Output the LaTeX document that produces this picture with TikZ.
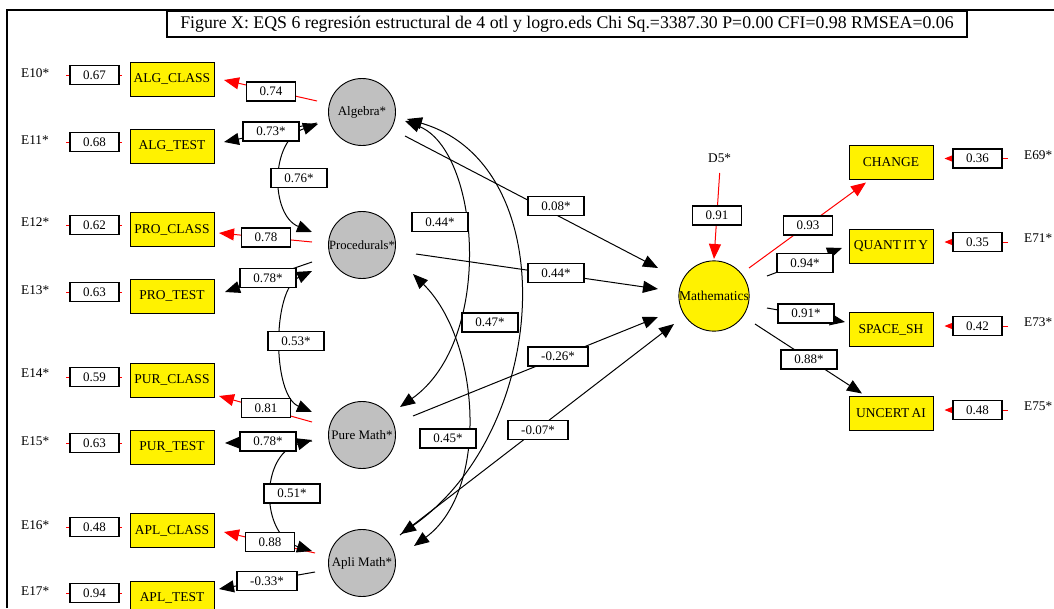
\documentclass[tikz,border=0pt]{standalone}
\usepackage{fontspec}
\setmainfont{Liberation Serif}
\usetikzlibrary{arrows.meta,calc}
\pgfdeclarelayer{bg}
\pgfsetlayers{bg,main}
\definecolor{latgray}{RGB}{192,192,192}
\newcommand{\fsz}[1]{\fontsize{#1}{#1}\selectfont}
\begin{document}
\begin{tikzpicture}[x=1pt,y=-1pt,
  ind/.style={draw, fill=yellow, line width=0.9pt, minimum width=84pt, minimum height=34pt, inner sep=0pt, font=\fsz{13.5}},
  lat/.style={circle, draw, fill=latgray, line width=0.9pt, minimum size=67pt, inner sep=0pt, font=\fsz{13}},
  val/.style={draw, fill=white, line width=1.1pt, minimum height=19pt, inner sep=0pt, font=\fsz{13}},
  va/.style={val, minimum width=49pt},
  vb/.style={val, minimum width=56pt},
  vc/.style={val, minimum width=60pt},
  elab/.style={font=\fsz{13.3}, inner sep=0pt, anchor=west},
  conn/.style={line width=1pt, -{Triangle[length=15pt,width=12pt]}},
  redconn/.style={conn, red},
  cov/.style={line width=1pt, {Triangle[length=15pt,width=12pt]}-{Triangle[length=15pt,width=12pt]}},
  errl/.style={red, line width=1pt},
  errr/.style={red, line width=1pt, -{Triangle[length=9pt,width=7pt]}},
]
\useasboundingbox (0,0) rectangle (1054,608);
\begin{pgfonlayer}{bg}
\fill[white] (0,0) rectangle (1054,608);
\end{pgfonlayer}
% frame
\draw[line width=1.5pt] (7,608) -- (7,10) -- (1054,10);
\node[draw, fill=white, line width=1.1pt, minimum width=800pt, minimum height=26pt, inner sep=0pt, font=\fsz{17.8}] (title) at (567,24)
  {Figure X: EQS 6 regresión estructural de 4 otl y logro.eds Chi Sq.=3387.30 P=0.00 CFI=0.98 RMSEA=0.06};

% latent factors
\node[lat] (alg) at (362,112) {Algebra*};
\node[lat, font=\fsz{12.6}] (pro) at (362,245) {Procedurals*};
\node[lat] (pur) at (362,435) {Pure Math*};
\node[lat] (apl) at (362,563) {Apli Math*};
\node[lat, fill=yellow, font=\fsz{13.5}] (math) at (714,296) {Mathematics};
\node[elab] (d5) at (708,158) {D5*};

% left indicators
\node[ind] (algclass) at (172,79) {ALG\_CLASS};
\node[ind] (algtest) at (172,146) {ALG\_TEST};
\node[ind] (proclass) at (172,229.5) {PRO\_CLASS};
\node[ind] (protest) at (172,296) {PRO\_TEST};
\node[ind] (purclass) at (172,380) {PUR\_CLASS};
\node[ind] (purtest) at (172,447) {PUR\_TEST};
\node[ind] (aplclass) at (172,530.5) {APL\_CLASS};
\node[ind] (apltest) at (172,598) {APL\_TEST};
% right indicators
\node[ind] (change) at (891,162.5) {CHANGE};
\node[ind] (quantity) at (891,246) {QUANT\,IT\,Y};
\node[ind] (space) at (891,329.5) {SPACE\_SH};
\node[ind] (uncert) at (891,413.5) {UNCERT\,AI};

% error labels
\node[elab] (e10) at (21,73) {E10*};
\node[elab] (e11) at (21,140) {E11*};
\node[elab] (e12) at (21,222) {E12*};
\node[elab] (e13) at (21,290) {E13*};
\node[elab] (e14) at (21,373) {E14*};
\node[elab] (e15) at (21,441) {E15*};
\node[elab] (e16) at (21,525) {E16*};
\node[elab] (e17) at (21,591) {E17*};
\node[elab] (e69) at (1024,155) {E69*};
\node[elab] (e71) at (1024,238) {E71*};
\node[elab] (e73) at (1024,322) {E73*};
\node[elab] (e75) at (1024,406) {E75*};

% error value boxes
\node[va] (e10v) at (94.5,75) {0.67};
\node[va] (e11v) at (94.5,142) {0.68};
\node[va] (e12v) at (94.5,225) {0.62};
\node[va] (e13v) at (94.5,292) {0.63};
\node[va] (e14v) at (94.5,377) {0.59};
\node[va] (e15v) at (94.5,443) {0.63};
\node[va] (e16v) at (94.5,527) {0.48};
\node[va] (e17v) at (94.5,593) {0.94};
\node[va] (e69v) at (977.5,158.5) {0.36};
\node[va] (e71v) at (977.5,242) {0.35};
\node[va] (e73v) at (977.5,326) {0.42};
\node[va] (e75v) at (977.5,410) {0.48};

\begin{pgfonlayer}{bg}
% error arrows left
\foreach \e/\i in {e10/algclass,e11/algtest,e12/proclass,e13/protest,e14/purclass,e15/purtest,e16/aplclass,e17/apltest}{
  \draw[errl, shorten <=17pt, shorten >=8pt] (\e.east |- \e v) -- (\i.west |- \e v);
}
% error arrows right
\foreach \e/\i in {e69/change,e71/quantity,e73/space,e75/uncert}{
  \draw[errr, shorten <=16pt, shorten >=11pt] (\e.west |- \e v) -- (\i.east |- \e v);
}
% loadings left
\draw[redconn] ($(alg)+(-45,-11)$) -- ($(algclass)+(52,1)$);
\draw[conn] ($(alg)+(-45,11)$) -- ($(algtest)+(52,-4)$);
\draw[redconn] ($(pro)+(-50,-3)$) -- ($(proclass)+(47,3.5)$);
\draw[conn] ($(pro)+(-50,17)$) -- ($(protest)+(53,-4)$);
\draw[redconn] ($(pur)+(-50,-13)$) -- ($(purclass)+(47,16)$);
\draw[conn] ($(pur)+(-50,6)$) -- ($(purtest)+(53,-4)$);
\draw[redconn] ($(apl)+(-47,-10)$) -- ($(aplclass)+(52,1.5)$);
\draw[conn] ($(apl)+(-47,9)$) -- ($(apltest)+(47,-9)$);
% covariances left
\draw[cov] ($(alg)+(-44,12)$) .. controls +(-48,16) and +(-42,-17) .. ($(pro)+(-50,-13)$);
\draw[cov] ($(pro)+(-50,26)$) .. controls +(-40,19) and +(-40,-17) .. ($(pur)+(-50,-23)$);
\draw[cov] ($(pur)+(-50,5)$) .. controls +(-52,15) and +(-52,-16) .. ($(apl)+(-50,-12)$);
% covariances right
\draw[cov] ($(alg)+(43,9)$) .. controls +(75,29) and +(95,-67) .. ($(pur)+(38,-28)$);
\draw[cov] ($(alg)+(45,7)$) .. controls +(158,46) and +(149,-104) .. ($(apl)+(39,-29)$);
\draw[cov] ($(pro)+(51,29)$) .. controls +(67,66) and +(76,-56) .. ($(apl)+(52,-17)$);
% structural paths
\draw[conn] ($(alg)+(43,24)$) -- ($(math)+(-56,-28)$);
\draw[conn] ($(pro)+(54,9)$) -- ($(math)+(-56,-7)$);
\draw[conn] ($(pur)+(51,-19)$) -- ($(math)+(-56,21)$);
\draw[conn] ($(apl)+(38,-28)$) -- ($(math)+(-40,28)$);
\draw[redconn] ($(d5)+(0,15)$) -- ($(math)+(0,-37)$);
% loadings right
\draw[redconn] ($(math)+(35,-28)$) -- ($(change)+(-25,20)$);
\draw[conn] ($(math)+(53,-20)$) -- ($(quantity)+(-49,2)$);
\draw[conn] ($(math)+(53,12)$) -- ($(space)+(-46,-7.5)$);
\draw[conn] ($(math)+(41,28)$) -- ($(uncert)+(-29,-20)$);
\end{pgfonlayer}

% coefficient boxes
\node[va] (l1) at (271,91.5) {0.74};
\node[vb] (l2) at (271,131.5) {0.73*};
\node[vb] (c1) at (299,178) {0.76*};
\node[va] (l3) at (266,237.5) {0.78};
\node[vb] (l4) at (268,278) {0.78*};
\node[vb] (c2) at (296,341) {0.53*};
\node[va] (l5) at (266,408) {0.81};
\node[vb] (l6) at (268,441.5) {0.78*};
\node[vb] (c3) at (292,493.5) {0.51*};
\node[va] (l7) at (270,542) {0.88};
\node[vc] (l8) at (267,581) {-0.33*};
\node[vb] (s1) at (556,206) {0.08*};
\node[vb] (s2) at (556,273) {0.44*};
\node[vb] (c4) at (440,222) {0.44*};
\node[vb] (c5) at (490,322.5) {0.47*};
\node[vc] (s3) at (558,356.5) {-0.26*};
\node[vb] (c6) at (448,438.5) {0.45*};
\node[vc] (s4) at (538,430) {-0.07*};
\node[va] (d5v) at (717,215.5) {0.91};
\node[va] (r1) at (808,225.5) {0.93};
\node[vb] (r2) at (805,263) {0.94*};
\node[vb] (r3) at (806,313.5) {0.91*};
\node[vb] (r4) at (809,359.5) {0.88*};
\end{tikzpicture}
\end{document}
